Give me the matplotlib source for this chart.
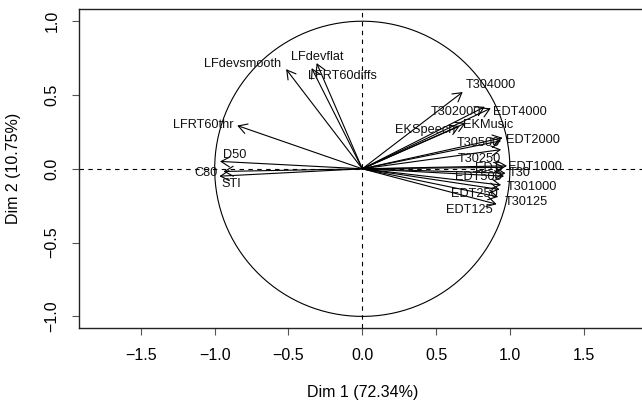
import numpy as np
import matplotlib
matplotlib.use("Agg")
import matplotlib.pyplot as plt

plt.rcParams['font.family'] = ['Liberation Sans', 'DejaVu Sans']

# ---- data: variable coordinates on Dim 1 / Dim 2 ----
variables = ["T304000", "T302000", "EDT4000", "EKSpeech", "EKMusic", "EDT2000",
             "T30500", "T30250", "EDT1000", "EDT", "T30", "EDT500", "T301000",
             "EDT250", "T30125", "EDT125",
             "LFdevsmooth", "LFdevflat", "LFRT60diffs", "LFRT60thr", "D50", "C80", "STI"]
dim1 = [0.68, 0.83, 0.87, 0.66, 0.70, 0.95,
        0.94, 0.94, 0.98, 0.96, 0.97, 0.96, 0.94,
        0.93, 0.92, 0.91,
        -0.516, -0.309, -0.343, -0.847, -0.964, -0.94, -0.968]
dim2 = [0.52, 0.42, 0.41, 0.29, 0.31, 0.21,
        0.19, 0.13, 0.02, 0.01, -0.03, -0.05, -0.11,
        -0.14, -0.19, -0.24,
        0.675, 0.716, 0.682, 0.293, 0.05, -0.018, -0.05]
# label offsets (pixels, right / up) relative to arrow tips
label_dx = [28, -29, 29, -35, 22, 30,
            -23, -22, 28, -16, 14, -26, 31,
            -25, 28, -27,
            -44, 1, 31, -34, 15, -18, 12]
label_dy = [7, -5, -4, -4, -2, -2,
            -2, -9, -1, -1, 0, -1, -2,
            -5, -5, -6,
            5, 6, -8, 1, 6, -2, -8]

xlabel = "Dim 1 (72.34%)"
ylabel = "Dim 2 (10.75%)"
xticks = [-1.5, -1.0, -0.5, 0.0, 0.5, 1.0, 1.5]
yticks = [-1.0, -0.5, 0.0, 0.5, 1.0]

fig = plt.figure(figsize=(6.42, 4.05), dpi=100)
ax = fig.add_axes([79.3/642, 1 - 328.3/405, 566/642, 319/405])
ax.set_xlim(-1.917, 1.917)
ax.set_ylim(-1.0806, 1.0806)

# unit circle
t = np.linspace(0, 2*np.pi, 400)
ax.plot(np.cos(t), np.sin(t), color='black', lw=0.8)
ax.axhline(0, color='black', lw=0.8, ls=(0, (4, 4)))
ax.axvline(0, color='black', lw=0.8, ls=(0, (4, 4)))

for name, x, y, dx, dy in zip(variables, dim1, dim2, label_dx, label_dy):
    ax.annotate("", xy=(x, y), xytext=(0, 0),
                arrowprops=dict(arrowstyle="->,head_length=0.62,head_width=0.36",
                                color='black', lw=0.8, shrinkA=0, shrinkB=0,
                                mutation_scale=10))
    ax.annotate(name, xy=(x, y), xytext=(dx, dy), textcoords='offset pixels',
                ha='center', va='center', fontsize=9.2, color='#111111')

ax.set_xticks(xticks)
ax.set_yticks(yticks)
ax.set_xticklabels([f"{v:.1f}".replace('-', '\u2212') for v in xticks])
ax.set_yticklabels([f"{v:.1f}".replace('-', '\u2212') for v in yticks],
                   rotation=90, va='center')
ax.tick_params(axis='both', length=5.3, width=0.8, labelsize=11.5, pad=9,
               color='#555555')
for s in ax.spines.values():
    s.set_linewidth(1.0)
    s.set_color('#222222')

ax.set_xlabel(xlabel, fontsize=11.5)
ax.set_ylabel(ylabel, fontsize=11.5)
ax.xaxis.set_label_coords(0.5, -0.2)
ax.yaxis.set_label_coords(-0.117, 0.5)
ax.xaxis.label.set_va('center')
ax.yaxis.label.set_va('center')

fig.savefig("out.png", dpi=100)
